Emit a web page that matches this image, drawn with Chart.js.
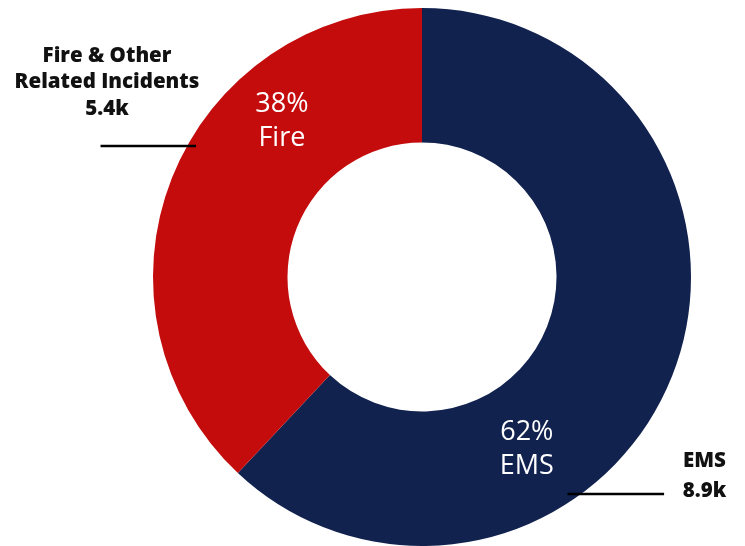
<!DOCTYPE html>
<html>
<head>
<meta charset="utf-8">
<script src="https://cdn.jsdelivr.net/npm/chart.js@4"></script>
<style>
  html, body { margin: 0; padding: 0; background: #fff; }
  #wrap { width: 745px; height: 546px; }
</style>
</head>
<body>
<div id="wrap"><canvas id="incidentsChart"></canvas></div>
<script>
const categories = ["EMS", "Fire"];
const shares = [62, 38];
const counts = ["8.9k", "5.4k"];
const outsideNames = [["EMS"], ["Fire & Other", "Related Incidents"]];
const sliceColors = ["#12224F", "#C40C0D"];

// labels inside the slices + leader-line callouts outside
const calloutPlugin = {
    id: "callouts",
    afterDatasetsDraw(chart) {
        const ctx = chart.ctx;
        const arc = chart.getDatasetMeta(0).data[0];
        const cx = arc.x, cy = arc.y, r = arc.outerRadius;

        // inner labels: angle measured clockwise from top, radius as fraction of r
        const inner = [
            { angle: 148.7, dist: 0.75 },
            { angle: -41.9, dist: 0.78 }
        ];
        ctx.save();
        ctx.fillStyle = "#ffffff";
        ctx.font = "27px 'Open Sans'";
        ctx.textAlign = "center";
        ctx.textBaseline = "middle";
        inner.forEach((p, i) => {
            const a = p.angle * Math.PI / 180;
            const x = cx + Math.sin(a) * r * p.dist;
            const y = cy - Math.cos(a) * r * p.dist;
            ctx.fillText(shares[i] + "%", x, y - 17);
            ctx.fillText(categories[i], x, y + 17);
        });

        // leader lines
        ctx.strokeStyle = "#000000";
        ctx.lineWidth = 2.5;
        ctx.beginPath();
        ctx.moveTo(cx - r * 1.195, cy - r * 0.487);
        ctx.lineTo(cx - r * 0.84, cy - r * 0.487);
        ctx.moveTo(cx + r * 0.541, cy + r * 0.807);
        ctx.lineTo(cx + r * 0.9, cy + r * 0.807);
        ctx.stroke();

        // outside text
        ctx.fillStyle = "#111111";
        ctx.font = "800 20.5px 'Open Sans'";
        const fireLines = outsideNames[1].concat([counts[1]]);
        fireLines.forEach((t, k) => {
            ctx.fillText(t, cx - r * 1.171, cy - r * 0.822 + k * 26.5);
        });
        const emsLines = outsideNames[0].concat([counts[0]]);
        emsLines.forEach((t, k) => {
            ctx.fillText(t, cx + r * 1.05, cy + r * 0.684 + k * 30);
        });
        ctx.restore();
    }
};

new Chart(document.getElementById("incidentsChart"), {
    type: "doughnut",
    data: {
        labels: categories,
        datasets: [{
            data: shares,
            backgroundColor: sliceColors,
            borderWidth: 0
        }]
    },
    options: {
        responsive: true,
        maintainAspectRatio: false,
        animation: false,
        cutout: "50%",
        layout: { padding: { top: 8, left: 99, right: 0, bottom: 0 } },
        plugins: {
            legend: { display: false },
            tooltip: { enabled: false }
        }
    },
    plugins: [calloutPlugin]
});
</script>
</body>
</html>
